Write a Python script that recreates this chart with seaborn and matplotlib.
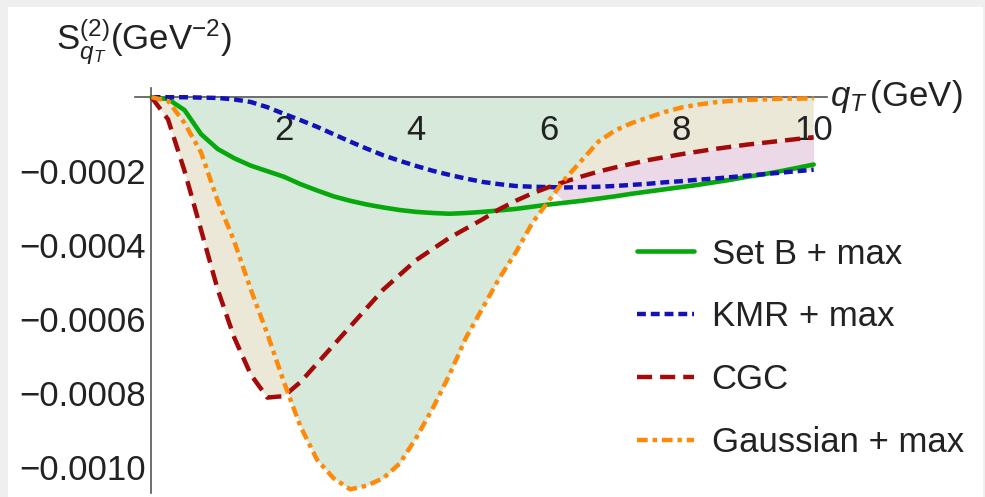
import numpy as np
import matplotlib
matplotlib.use('Agg')
import matplotlib.pyplot as plt
import matplotlib.patches as mpatches
from matplotlib.lines import Line2D
from matplotlib.ticker import MultipleLocator, FixedLocator
import seaborn as sns

# --- Data (q_T in GeV, S in GeV^-2) ---
qt = np.arange(0, 10.01, 0.25)

set_b = [0, -0.000005, -0.000035, -0.0001, -0.00014, -0.000165, -0.000185, -0.0002,
         -0.000215, -0.000235, -0.000252, -0.000268, -0.00028, -0.00029, -0.000298,
         -0.000305, -0.00031, -0.000313, -0.000315, -0.000313, -0.00031, -0.000306,
         -0.000302, -0.000296, -0.00029, -0.000285, -0.00028, -0.000274, -0.000268,
         -0.000261, -0.000255, -0.000249, -0.000243, -0.000237, -0.00023, -0.000223,
         -0.000215, -0.000208, -0.0002, -0.000191, -0.000182]

kmr = [0, 0, 0, -0.000001, -0.000002, -0.000006, -0.000013, -0.000027, -0.000045,
       -0.000062, -0.00008, -0.0001, -0.00012, -0.000139, -0.000157, -0.000172,
       -0.000186, -0.000199, -0.00021, -0.00022, -0.000229, -0.000235, -0.00024,
       -0.000242, -0.000243, -0.000244, -0.000243, -0.000242, -0.00024, -0.000237,
       -0.000234, -0.00023, -0.000227, -0.000223, -0.00022, -0.000216, -0.000212,
       -0.000208, -0.000204, -0.0002, -0.000196]

cgc = [0, -0.00006, -0.0002, -0.00036, -0.00052, -0.00065, -0.00075, -0.000812,
       -0.000808, -0.00077, -0.00072, -0.00067, -0.00062, -0.00057, -0.00052,
       -0.00048, -0.00044, -0.00041, -0.00038, -0.000355, -0.00033, -0.000303,
       -0.00028, -0.00026, -0.000243, -0.000228, -0.000214, -0.000201, -0.00019,
       -0.00018, -0.00017, -0.000162, -0.000154, -0.000147, -0.00014, -0.000134,
       -0.000128, -0.000123, -0.000118, -0.000113, -0.000108]

gaussian = [0, -0.00001, -0.00007, -0.00015, -0.00028, -0.00039, -0.00052, -0.00064,
            -0.00077, -0.00089, -0.00098, -0.00103, -0.00106, -0.00105, -0.00103,
            -0.00099, -0.00092, -0.00084, -0.00075, -0.00065, -0.00057, -0.00049,
            -0.00042, -0.00034, -0.00028, -0.00022, -0.00017, -0.00012, -0.00009,
            -0.00007, -0.000055, -0.00004, -0.000028, -0.00002, -0.000014, -0.00001,
            -0.000007, -0.000006, -0.000004, -0.000004, -0.000003]

labels = ['Set B + max', 'KMR + max', 'CGC', 'Gaussian + max']
x_ticks = [2, 4, 6, 8, 10]
y_ticks = [-0.0010, -0.0008, -0.0006, -0.0004, -0.0002]

# --- Style ---
sns.set_style('white')
plt.rcParams['font.family'] = ['Liberation Sans', 'DejaVu Sans']
plt.rcParams['mathtext.fontset'] = 'custom'
plt.rcParams['mathtext.rm'] = 'Liberation Sans'
plt.rcParams['mathtext.it'] = 'Liberation Sans:italic'
FS = 25

c_green, c_blue, c_red, c_orange = '#07a80c', '#1212b8', '#a50a0a', '#ff8a0a'
styles = [
    dict(color=c_green, linewidth=3.3, linestyle='-'),
    dict(color=c_blue, linewidth=3.2, linestyle=(0, (2.0, 1.1))),
    dict(color=c_red, linewidth=3.2, linestyle=(0, (3.4, 1.8))),
    dict(color=c_orange, linewidth=3.2, linestyle=(0, (2.4, 1.1, 1.0, 1.1))),
]

fig = plt.figure(figsize=(9.85, 4.97), dpi=100)
fig.patch.set_facecolor('#efefef')
fig.patches.append(mpatches.Rectangle((8 / 985, 0), 975 / 985, 490 / 497,
                                      transform=fig.transFigure, facecolor='white',
                                      edgecolor='none', zorder=-10))

ax = fig.add_axes([0.137, 0.008, 0.7025, 0.815])
ax.set_facecolor('white')
ax.set_axisbelow(False)

g, k, c, ga = (np.array(v) for v in (set_b, kmr, cgc, gaussian))

# shaded bands
ax.fill_between(qt, 0, ga, color='#d6e9da', linewidth=0, zorder=0.6)
ax.fill_between(qt, c, ga, where=c < ga, interpolate=True,
                color='#ebe8d7', linewidth=0, zorder=0.6)
low = np.minimum(k, g)
ax.fill_between(qt, c, low, where=(c > k), interpolate=True,
                color='#ebd9e8', linewidth=0, zorder=0.6)

for vals, st in zip([set_b, kmr, cgc, gaussian], styles):
    sns.lineplot(x=qt, y=vals, ax=ax, zorder=3, **st)

ax.set_xlim(-0.25, 10.2)
ax.set_ylim(-0.00107, 0.000025)

# Mathematica-like axes through the origin
for side in ['top', 'right']:
    ax.spines[side].set_visible(False)
ax.spines['left'].set_position(('data', 0))
ax.spines['bottom'].set_position(('data', 0))
for side in ['left', 'bottom']:
    ax.spines[side].set_color('#555555')
    ax.spines[side].set_linewidth(1.2)
    ax.spines[side].set_zorder(2)
ax.xaxis.set_zorder(2)
ax.yaxis.set_zorder(2)

ax.xaxis.set_major_locator(FixedLocator(x_ticks))
ax.xaxis.set_minor_locator(MultipleLocator(0.5))
ax.yaxis.set_major_locator(FixedLocator(y_ticks))
ax.yaxis.set_minor_locator(MultipleLocator(0.00005))
ax.set_xticklabels([str(v) for v in x_ticks])
ax.set_yticklabels(['\u2212%.4f' % abs(v) for v in y_ticks])
ax.tick_params(axis='x', which='major', direction='in', length=5, width=1,
               color='#555555', labelsize=FS, pad=12, labelcolor='#222222')
ax.tick_params(axis='x', which='minor', direction='in', length=3, width=1, color='#555555')
ax.tick_params(axis='y', which='major', direction='in', length=7, width=1,
               color='#555555', labelsize=FS, pad=4, labelcolor='#222222')
ax.tick_params(axis='y', which='minor', direction='in', length=4, width=1, color='#555555')
ax.set_xlabel('')
ax.set_ylabel('')

fig.text(0.057, 0.915, r'$\mathrm{S}_{q_T}^{(2)}$(GeV$^{-2}$)', fontsize=FS,
         color='#222222', va='center', ha='left')
fig.text(0.843, 0.805, r'$q_T\,$(GeV)', fontsize=FS, color='#222222',
         va='center', ha='left')

handles = [Line2D([0], [0], **st) for st in styles]
fig.legend(handles, labels, loc='upper left', bbox_to_anchor=(0.615, 0.585),
           frameon=False, fontsize=FS, handlelength=1.65, handletextpad=0.5,
           labelspacing=0.86, labelcolor='#222222')

fig.savefig('out.png', dpi=100, facecolor=fig.get_facecolor())
